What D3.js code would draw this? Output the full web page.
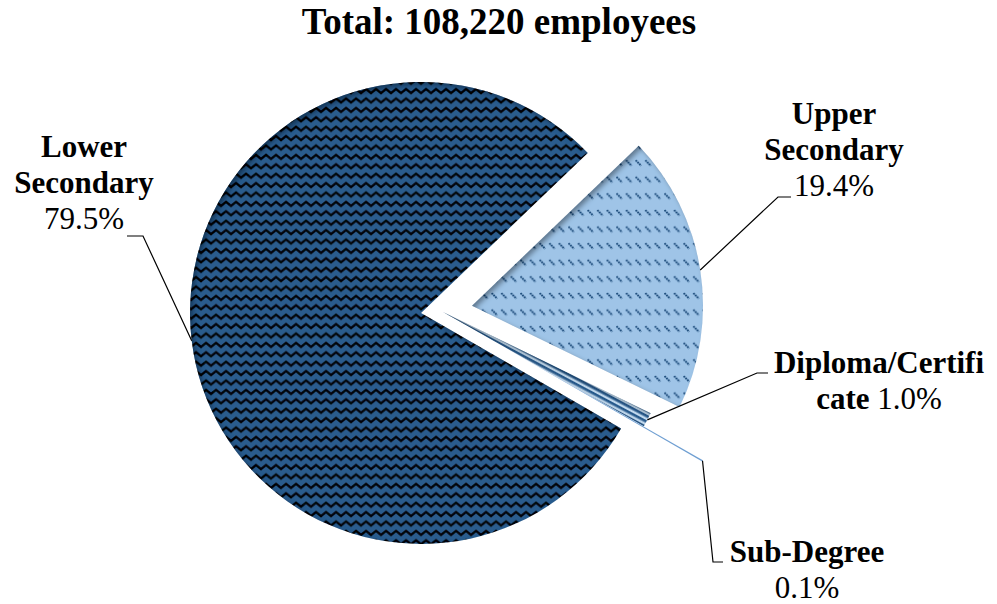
<!DOCTYPE html>
<html>
<head>
<meta charset="utf-8">
<script src="https://cdn.jsdelivr.net/npm/d3@7"></script>
<style>
  html, body { margin: 0; padding: 0; background: #fff; }
  svg { display: block; font-family: "Liberation Serif", "Times New Roman", serif; }
</style>
</head>
<body>
<svg id="chart" width="997" height="604"></svg>
<script>
// Employees by education attainment
const titleText = "Total: 108,220 employees";
const categories = ["Lower Secondary", "Upper Secondary", "Diploma/Certificate", "Sub-Degree"];
const shares = [79.5, 19.4, 1.0, 0.1];
const labelLines = [["Lower", "Secondary"], ["Upper", "Secondary"], ["Diploma/Certifi", "cate"], ["Sub-Degree"]];

const W = 997, H = 604;
const cx = 440.5, cy = 310.6, R = 231;
const startDeg = 120;
const explode = [19.6, 31.9, 2.9, 71];
const fills = ["url(#zigzag)", "url(#dashdiag)", "url(#stripes)", "#6f9fd2"];

// label layout: block centre x, first baseline, whether the percent sits on the last line,
// and the leader elbow / end points
const labelLayout = [
  { x: 84,  y: 157, inline: false, elbow: [143, 236], end: [127, 236] },
  { x: 834, y: 124, inline: false, elbow: [778, 197], end: [791, 197] },
  { x: 879, y: 373, inline: true,  elbow: [757, 373], end: [768, 373] },
  { x: 807, y: 562, inline: false, elbow: [713, 562], end: [723, 562] }
];
const fontSize = 31, lineH = 36;

const svg = d3.select("#chart");
const defs = svg.append("defs");

// zig-zag hatch for the large slice
const zw = 10, zh = 9.4;
const zz = defs.append("pattern").attr("id", "zigzag").attr("patternUnits", "userSpaceOnUse")
  .attr("width", zw).attr("height", zh);
zz.append("rect").attr("width", zw).attr("height", zh).attr("fill", "#2b5b8d");
zz.append("polyline").attr("points", `-1,6.6 ${zw / 2},1.8 ${zw + 1},6.6`)
  .attr("fill", "none").attr("stroke", "#04060a").attr("stroke-width", 2.3);

// dashed downward diagonal on light blue
const dw = 9.6, dh = 16.6;
const dd = defs.append("pattern").attr("id", "dashdiag").attr("patternUnits", "userSpaceOnUse")
  .attr("width", dw).attr("height", dh);
dd.append("rect").attr("width", dw).attr("height", dh).attr("fill", "#9fc4e7");
dd.append("line").attr("x1", 0.5).attr("y1", 4).attr("x2", 6).attr("y2", 9.5)
  .attr("stroke", "#1b4a7a").attr("stroke-width", 1.9).attr("stroke-dasharray", "1.8 0.7");

// fine stripes for the diploma slice
const st = defs.append("pattern").attr("id", "stripes").attr("patternUnits", "userSpaceOnUse")
  .attr("width", 5).attr("height", 5).attr("patternTransform", "rotate(28)");
st.append("rect").attr("width", 5).attr("height", 5).attr("fill", "#c3dbf0");
st.append("rect").attr("width", 5).attr("height", 2.6).attr("fill", "#2b5b8d");

// soft inner shadow from the upper left
const f = defs.append("filter").attr("id", "inner").attr("x", "-20%").attr("y", "-20%")
  .attr("width", "140%").attr("height", "140%");
f.append("feComponentTransfer").attr("in", "SourceAlpha").attr("result", "inv")
  .append("feFuncA").attr("type", "table").attr("tableValues", "1 0");
f.append("feOffset").attr("in", "inv").attr("dx", 2.5).attr("dy", 2.5).attr("result", "off");
f.append("feGaussianBlur").attr("in", "off").attr("stdDeviation", 2.5).attr("result", "blur");
f.append("feFlood").attr("flood-color", "#000").attr("flood-opacity", 0.65).attr("result", "col");
f.append("feComposite").attr("in", "col").attr("in2", "blur").attr("operator", "in").attr("result", "sh");
f.append("feComposite").attr("in", "sh").attr("in2", "SourceAlpha").attr("operator", "in").attr("result", "ish");
const fm = f.append("feMerge");
fm.append("feMergeNode").attr("in", "SourceGraphic");
fm.append("feMergeNode").attr("in", "ish");

const rad = Math.PI / 180;
const pie = d3.pie().sort(null).value(d => d)
  .startAngle(startDeg * rad).endAngle(startDeg * rad + 2 * Math.PI);
const arcs = pie(shares);
const arc = d3.arc().innerRadius(0).outerRadius(R);

const mid = a => (a.startAngle + a.endAngle) / 2;
const dir = a => [Math.sin(mid(a)), -Math.cos(mid(a))];

const g = svg.append("g").attr("transform", `translate(${cx},${cy})`);
g.selectAll("path.slice").data(arcs).join("path")
  .attr("class", "slice")
  .attr("transform", (a, i) => { const [dx, dy] = dir(a); return `translate(${dx * explode[i]},${dy * explode[i]})`; })
  .attr("d", arc)
  .attr("fill", (a, i) => fills[i])
  .attr("filter", (a, i) => i < 3 ? "url(#inner)" : null);

// leader lines from each slice's outer midpoint
arcs.forEach((a, i) => {
  const [dx, dy] = dir(a);
  const L = labelLayout[i];
  const p0 = [cx + dx * (explode[i] + R), cy + dy * (explode[i] + R)];
  svg.append("polyline")
    .attr("points", [p0, L.elbow, L.end].map(p => p.join(",")).join(" "))
    .attr("fill", "none").attr("stroke", "#000").attr("stroke-width", 1.2);
});

// labels
const fmt = v => d3.format(".1f")(v) + "%";
arcs.forEach((a, i) => {
  const L = labelLayout[i];
  const lines = labelLines[i];
  const t = svg.append("text").attr("text-anchor", "middle").attr("font-size", fontSize).attr("fill", "#000");
  lines.forEach((ln, k) => {
    t.append("tspan").attr("x", L.x).attr("y", L.y + k * lineH)
      .attr("font-weight", "bold").text(ln);
  });
  if (L.inline) {
    t.append("tspan").attr("font-weight", "normal").text(" " + fmt(shares[i]));
  } else {
    t.append("tspan").attr("x", L.x).attr("y", L.y + lines.length * lineH)
      .attr("font-weight", "normal").text(fmt(shares[i]));
  }
});

svg.append("text").attr("x", 499).attr("y", 34).attr("text-anchor", "middle")
  .attr("font-size", 37).attr("font-weight", "bold").text(titleText);
</script>
</body>
</html>
